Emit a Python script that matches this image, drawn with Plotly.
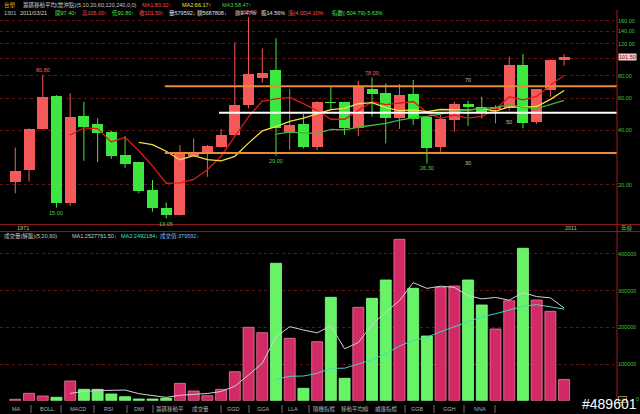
import math
import plotly.graph_objects as go

W, H = 640, 414

years = [1971, 1972, 1973, 1974, 1975, 1976, 1977, 1978, 1979, 1980,
         1981, 1982, 1983, 1984, 1985, 1986, 1987, 1988, 1989, 1990,
         1991, 1992, 1993, 1994, 1995, 1996, 1997, 1998, 1999, 2000,
         2001, 2002, 2003, 2004, 2005, 2006, 2007, 2008, 2009, 2010, 2011]

opens = [20.9, 24.2, 40.7, 61.8, 15.9, 48.0, 43.3, 39.2, 29.2, 26.7,
         18.7, 15.0, 13.7, 28.9, 30.5, 32.5, 37.7, 55.1, 77.3, 86.0,
         39.3, 43.3, 32.5, 57.5, 57.0, 41.0, 67.5, 64.2, 46.6, 63.2,
         47.5, 32.5, 45.6, 55.8, 54.0, 52.2, 52.9, 91.6, 44.6, 66.7, 97.4]
highs = [32.1, 41.0, 80.8, 62.5, 64.0, 57.5, 46.6, 39.8, 37.2, 26.9,
         21.3, 16.0, 33.2, 36.1, 33.2, 40.7, 122.0, 168.0, 113.0, 128.5,
         67.5, 49.2, 58.0, 69.5, 57.5, 75.0, 78.0, 72.6, 71.9, 75.7,
         48.0, 48.6, 57.5, 58.2, 61.2, 55.1, 101.7, 105.3, 67.5, 98.5, 105.0]
lows = [18.0, 20.9, 40.5, 15.0, 15.3, 27.2, 26.7, 27.8, 24.9, 18.0,
        14.25, 13.05, 13.6, 28.7, 22.2, 32.3, 37.5, 52.9, 73.1, 29.0,
        31.2, 31.8, 31.2, 51.7, 37.7, 37.2, 47.5, 33.9, 40.7, 42.8,
        26.3, 30.5, 39.3, 42.3, 46.6, 43.7, 51.3, 41.0, 43.3, 61.2, 90.8]
closes = [23.9, 40.7, 60.8, 15.9, 47.2, 41.9, 38.8, 28.9, 26.1, 18.6,
          14.9, 13.7, 29.5, 30.5, 32.8, 37.5, 55.1, 81.4, 83.1, 41.0,
          42.8, 32.5, 57.5, 56.3, 41.0, 69.5, 63.4, 46.6, 62.6, 46.0,
          31.8, 46.0, 55.8, 54.0, 50.7, 54.0, 91.6, 43.7, 67.3, 97.5, 101.5]

ma1 = [None, None, None, None, 37.70, 41.30, 40.92, 34.54, 36.58, 30.86,
       25.46, 20.44, 20.56, 21.44, 24.28, 28.80, 37.08, 47.46, 57.98, 59.62,
       60.68, 56.16, 51.38, 46.02, 46.02, 51.36, 57.54, 55.36, 56.62, 57.62,
       50.08, 46.60, 48.44, 46.72, 47.66, 52.10, 61.22, 58.80, 61.46, 70.82, 80.32]
ma2 = [None] * 9 + [34.28, 33.38, 30.68, 27.55, 29.01, 27.57, 27.13, 28.76, 34.01,
                    39.71, 41.95, 44.74, 46.62, 49.42, 52.00, 52.82, 56.02, 56.85,
                    53.37, 51.32, 51.82, 50.72, 52.07, 51.90, 51.67, 52.64, 51.09,
                    53.91, 53.62, 54.09, 59.24, 66.21]
ma3 = [None] * 19 + [38.12, 39.06, 38.65, 38.49, 40.51, 40.20, 41.58, 42.81, 43.69,
                     45.52, 46.89, 47.73, 49.35, 50.66, 51.84, 52.73, 53.56, 55.38,
                     53.50, 52.71, 55.53, 58.47]

volume = [3800, 20200, 12800, 9300, 53700, 31000, 31000, 18300, 10900, 4600,
          4600, 6500, 47400, 26400, 13600, 31000, 79000, 200000, 185300, 374400,
          170000, 33800, 160800, 281700, 61000, 254500, 279000, 328900, 439800, 306300,
          176300, 309000, 312500, 328900, 260800, 195400, 272500, 415300, 274400, 243700, 57959]
vol_ma1 = [None] * 4 + [19960, 25400, 27560, 28660, 28980, 19160, 13880, 8980, 14800,
                        17900, 19700, 24980, 39480, 70000, 101780, 173940, 201740,
                        192700, 184860, 204140, 141460, 158360, 207400, 241020, 272640,
                        321700, 306060, 312060, 308780, 286600, 277500, 281320, 274020,
                        294580, 283680, 280260, 252772]
vol_ma2 = [None] * 19 + [58190, 66500, 67180, 74580, 88200, 88565, 99740, 112140, 127670,
                         149115, 164200, 172785, 187910, 201165, 216290, 228650, 236870,
                         246545, 257310, 261765, 255230, 249628]

price_ticks = [20, 40, 60, 80, 100, 120, 140, 160]
price_tick_text = ["20.00", "40.00", "60.00", "80.00", "", "120.00", "140.00", "160.00"]
vol_ticks = [100000, 200000, 300000, 400000]
vol_tick_text = ["100000", "200000", "300000", "400000"]
levels = [70, 50, 30]
level_text = ["70", "50", "30"]
toolbar = ["MA", "BOLL", "MACD", "RSI", "DMI", "籌碼移動平", "成交量", "GGD", "GGA", "LLA",
           "隨機指標", "移動平均線", "威廉指標", "GGB", "GGH", "NNA"]

UP = "#f45a5a"
DN = "#3ee640"
VUP = "#d22a66"
VDN = "#66f466"
FONT = "Liberation Sans, Noto Sans CJK TC, sans-serif"
FS = 5.5

up = [c >= o for o, c in zip(opens, closes)]

fig = go.Figure()

# wicks
for flag, col in [(True, UP), (False, DN)]:
    xs, ys = [], []
    for yr, hi, lo, u in zip(years, highs, lows, up):
        if u == flag:
            xs += [yr, yr, None]
            ys += [lo, hi, None]
    fig.add_trace(go.Scatter(x=xs, y=ys, mode="lines", line=dict(color=col, width=1),
                             hoverinfo="skip", showlegend=False, xaxis="x", yaxis="y"))

# bodies
fig.add_trace(go.Bar(
    x=years,
    base=[min(o, c) for o, c in zip(opens, closes)],
    y=[abs(c - o) for o, c in zip(opens, closes)],
    width=0.8,
    marker=dict(color=[UP if u else DN for u in up], line=dict(width=0)),
    showlegend=False, xaxis="x", yaxis="y"))

# MAs
fig.add_trace(go.Scatter(x=years, y=ma1, mode="lines", line=dict(color="#e01818", width=1.3),
                         showlegend=False, xaxis="x", yaxis="y"))
fig.add_trace(go.Scatter(x=years, y=ma2, mode="lines", line=dict(color="#f0e040", width=1.3),
                         showlegend=False, xaxis="x", yaxis="y"))
fig.add_trace(go.Scatter(x=years, y=ma3, mode="lines", line=dict(color="#3cb83c", width=1.3),
                         showlegend=False, xaxis="x", yaxis="y"))

# volume
fig.add_trace(go.Bar(
    x=years, y=volume, width=0.8,
    marker=dict(color=[VUP if u else VDN for u in up],
                line=dict(color=["#f27a9a" if u else "#88ff88" for u in up], width=0.8)),
    showlegend=False, xaxis="x", yaxis="y2"))
fig.add_trace(go.Scatter(x=years, y=vol_ma1, mode="lines", line=dict(color="#d0d0d0", width=1),
                         showlegend=False, xaxis="x", yaxis="y2"))
fig.add_trace(go.Scatter(x=years, y=vol_ma2, mode="lines", line=dict(color="#40d8c0", width=1),
                         showlegend=False, xaxis="x", yaxis="y2"))

x_lo, x_hi = years[0] - 1.115, years[0] + 43.855


def py(p):
    return 1 - p / H


def px(p):
    return p / W


shapes = []
level_start = [years[0] + 10.9, years[0] + 14.85, years[0] + 10.9]
level_col = ["#e88a36", "#ffffff", "#e88a36"]
for lv, xs, col in zip(levels, level_start, level_col):
    shapes.append(dict(type="line", xref="x", yref="y", x0=xs, x1=x_hi, y0=lv, y1=lv,
                       line=dict(color=col, width=2)))
for yy in [224.5, 231.5]:
    shapes.append(dict(type="line", xref="paper", yref="paper", x0=0, x1=1, y0=py(yy), y1=py(yy),
                       line=dict(color="#8a1a1a", width=1)))
shapes.append(dict(type="line", xref="paper", yref="paper", x0=px(617), x1=px(617),
                   y0=py(401), y1=py(10), line=dict(color="#a01c1c", width=1)))

ann = []


def text(xp, yp, t, color, size=FS, xanchor="left", **kw):
    ann.append(dict(x=px(xp), y=py(yp), xref="paper", yref="paper", text=t, showarrow=False,
                    xanchor=xanchor, yanchor="middle", font=dict(color=color, size=size, family=FONT),
                    **kw))


# header line 1
text(2, 5, "台塑", "#f0b000")
text(21, 5, "籌碼移動平均(當沖點)(5,10,20,60,120,240,0,0)", "#c8c8c8")
text(140, 5, "MA1:80.32↑", "#ff4848")
text(180, 5, "MA2:66.17↑", "#f0e040")
text(220, 5, "MA3:58.47↑", "#48d048")
# header line 2
text(2, 13, "1301", "#c0c0c0")
text(18, 13, "2011/03/21", "#d8d8d8")
text(53, 13, "開97.40↑", "#50e050")
text(80, 13, "高105.00↑", "#ff5050")
text(110, 13, "低90.80↑", "#50e050")
text(137, 13, "收101.50↑", "#ff5050")
text(167, 13, "量579592↓", "#e0e0e0")
text(195, 13, "額5687808↓", "#e0e0e0")
text(233, 13, "換9.47%", "#e0e0e0")
text(259, 13, "振14.56%", "#e0e0e0")
text(286, 13, "漲(4.00)4.10%", "#ff5050")
text(330, 13, "指數(-504.79)-5.63%", "#50e050")
# volume header
text(2, 236, "成交量(解盤)(5,20,60)", "#c8c8c8")
text(70, 236, "MA1:2527761.50↓", "#d0d0d0")
text(119, 236, "MA2:2492184↓", "#40e0c0")
text(158, 236, "成交值:379592↓", "#80b8ff")
# year labels
for yr in [years[0], years[-1]]:
    ann.append(dict(x=yr - 0.05, y=py(228), xref="x", yref="paper", text=str(yr),
                    showarrow=False, xanchor="left", yanchor="middle",
                    font=dict(color="#b8c880", size=FS, family=FONT)))
text(627, 228, "年線", "#50c050", xanchor="center")
# current price box
text(618, 57.5, "101.50", "#7a0000", bgcolor="#f4d0d0", borderpad=0)
# volume axis extras
text(617.5, 399, "x10", "#b0b060", size=4, bordercolor="#808060", borderwidth=1, borderpad=0)
text(637, 399, "0", "#40c040", xanchor="center")


def mark(idx, val, t, color, above):
    ann.append(dict(x=years[idx], y=math.log10(val), xref="x", yref="y", text=t,
                    showarrow=False, xanchor="center", yanchor="bottom" if above else "top",
                    font=dict(color=color, size=FS, family=FONT)))


mark(2, highs[2], "80.80", "#f06060", True)
mark(3, lows[3], "15.00", "#50d050", False)
mark(11, lows[11], "13.05", "#50d050", False)
mark(17, highs[17], "168.00", "#f06060", True)
mark(19, lows[19], "29.00", "#50d050", False)
mark(26, highs[26], "78.00", "#f06060", True)
mark(30, lows[30], "26.30", "#50d050", False)

lvl_pos = [(years[33], 6), (years[36], -9), (years[33], -10)]
for lv, t, (xx, sh) in zip(levels, level_text, lvl_pos):
    ann.append(dict(x=xx, y=math.log10(lv), xref="x", yref="y", text=t, showarrow=False,
                    xanchor="center", yanchor="middle", yshift=sh,
                    font=dict(color="#d0c080", size=FS, family=FONT)))

# toolbar
tool_x = [16, 47, 78, 109, 139, 170, 200, 233, 263, 293, 324, 355, 386, 417, 449, 480]
for t, xx in zip(toolbar, tool_x):
    text(xx, 409, t, "#b0b0b0", xanchor="center")
for xx in [31, 61, 94, 127, 153, 221, 249, 282, 309, 405, 434, 464, 495]:
    shapes.append(dict(type="line", xref="paper", yref="paper", x0=px(xx), x1=px(xx),
                       y0=py(405), y1=py(413), line=dict(color="#707070", width=1)))

# watermark
ann.append(dict(x=px(639), y=py(414), xref="paper", yref="paper", text="#489601", showarrow=False,
                xanchor="right", yanchor="bottom",
                font=dict(color="#ffffff", size=14, family="Liberation Sans, sans-serif")))

fig.update_layout(
    width=W, height=H,
    margin=dict(l=0, r=0, t=0, b=0),
    paper_bgcolor="#000000", plot_bgcolor="#000000",
    bargap=0, barmode="overlay",
    showlegend=False,
    hovermode=False,
    xaxis=dict(domain=[0, 617 / W], range=[x_lo, x_hi], showgrid=False, zeroline=False,
               showticklabels=False, ticks="", showline=False, fixedrange=True),
    yaxis=dict(domain=[py(224.5), py(8)], type="log",
               range=[1.0834, 2.2756], side="right", tickvals=price_ticks, ticktext=price_tick_text,
               tickfont=dict(color="#40c040", size=FS, family=FONT), ticks="",
               showgrid=True, gridcolor="#5e1616", griddash="dot", gridwidth=1,
               zeroline=False, showline=False, fixedrange=True),
    yaxis2=dict(domain=[py(400.7), py(231.5)], range=[0, 461035], side="right",
                tickvals=vol_ticks, ticktext=vol_tick_text,
                tickfont=dict(color="#40c040", size=FS, family=FONT), ticks="",
                showgrid=True, gridcolor="#5e1616", griddash="dot", gridwidth=1,
                zeroline=False, showline=False, fixedrange=True),
    shapes=shapes,
    annotations=ann,
)

fig.write_html("out.html", config={"displayModeBar": False, "staticPlot": True},
               post_script=["document.body.style.margin='0';"])
